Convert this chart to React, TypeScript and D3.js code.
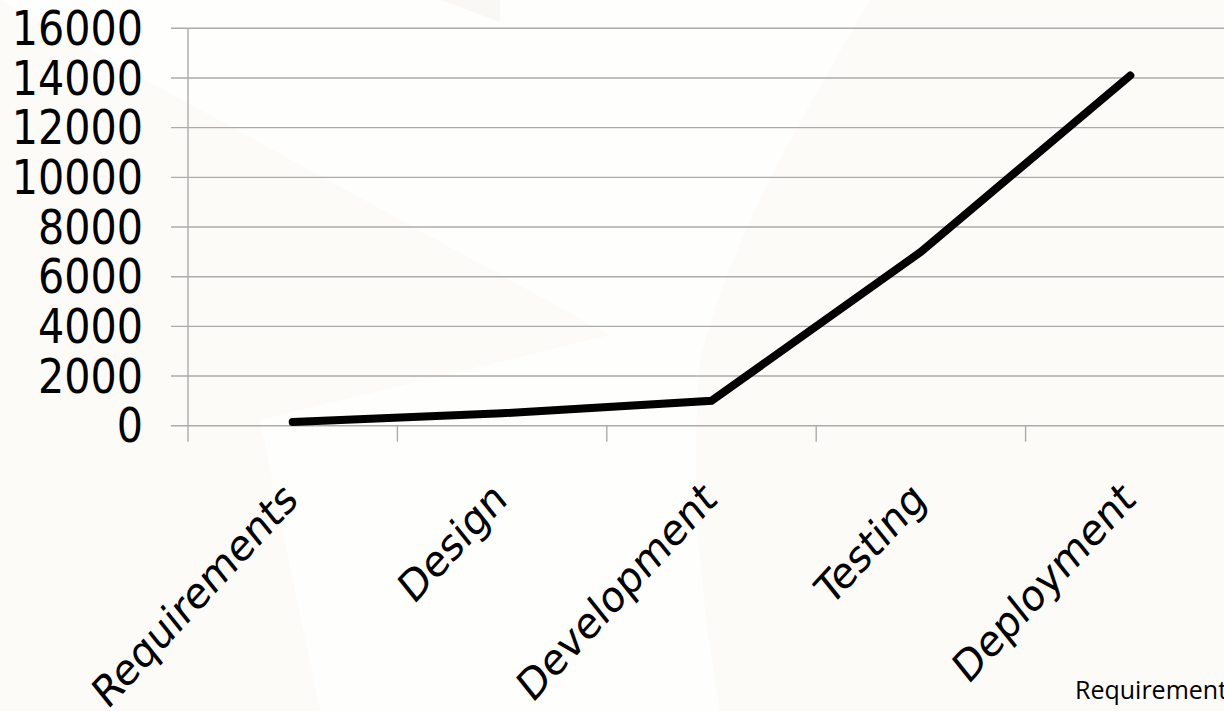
import React from "react";
import * as d3 from "d3";

const categories = ["Requirements", "Design", "Development", "Testing", "Deployment"];
const values = [150, 500, 1000, 7000, 14100];
const yTicks = [0, 2000, 4000, 6000, 8000, 10000, 12000, 14000, 16000];
const footnote = "Requirements";

const W = 1224;
const H = 711;

export default function App() {
  const x = d3.scaleBand<string>().domain(categories).range([188, 188 + 5 * 209.4]).padding(0);
  const y = d3.scaleLinear().domain([0, 16000]).range([425.7, 28.3]);
  const cx = (c: string) => (x(c) as number) + x.bandwidth() / 2;
  const line = d3
    .line<number>()
    .x((_, i) => cx(categories[i]))
    .y((d) => y(d));

  const font = "'DejaVu Sans', sans-serif";
  const grid = "#ababab";
  const boundaries = categories
    .map((c) => x(c) as number)
    .concat([(x(categories[4]) as number) + x.bandwidth()]);

  return (
    <svg width={W} height={H} style={{ position: "absolute", left: 0, top: 0, display: "block" }}>
      <rect x={0} y={0} width={W} height={H} fill="#fefefc" />
      {/* faint watermark */}
      <path d="M0,0 L0,711 L320,711 L260,420 L610,335 L0,0 Z" fill="#fcfbf8" />
      <path d="M440,0 L500,0 L500,22 Z" fill="#f9f8f4" />
      <path d="M1224,0 L870,0 C800,120 730,240 700,360 C690,480 700,600 720,711 L1224,711 Z" fill="#fcfbf8" />

      {yTicks.map((t) => (
        <line key={"g" + t} x1={171} x2={boundaries[5]} y1={y(t)} y2={y(t)} stroke={grid} strokeWidth={1.4} />
      ))}
      <line x1={188} x2={188} y1={y(16000)} y2={y(0) + 16} stroke={grid} strokeWidth={1.4} />
      {boundaries.slice(1).map((b, i) => (
        <line key={"t" + i} x1={b} x2={b} y1={y(0)} y2={y(0) + 16} stroke={grid} strokeWidth={1.4} />
      ))}

      {yTicks.map((t) => (
        <text
          key={"l" + t}
          transform={`translate(143,${y(t)}) scale(0.86,1)`}
          textAnchor="end"
          dominantBaseline="central"
          fontFamily={font}
          fontSize={48}
          fill="#000"
        >
          {t}
        </text>
      ))}

      {categories.map((c) => (
        <text
          key={c}
          transform={`translate(${cx(c) + 7},${502}) scale(0.86,1) rotate(-43)`}
          textAnchor="end"
          fontFamily={font}
          fontSize={44}
          fill="#000"
        >
          {c}
        </text>
      ))}

      <path
        d={line(values) as string}
        fill="none"
        stroke="#000"
        strokeWidth={8}
        strokeLinecap="round"
        strokeLinejoin="miter"
      />

      <text x={1075} y={699} fontFamily="'Open Sans', sans-serif" fontSize={25} fill="#000">
        {footnote}
      </text>
    </svg>
  );
}
